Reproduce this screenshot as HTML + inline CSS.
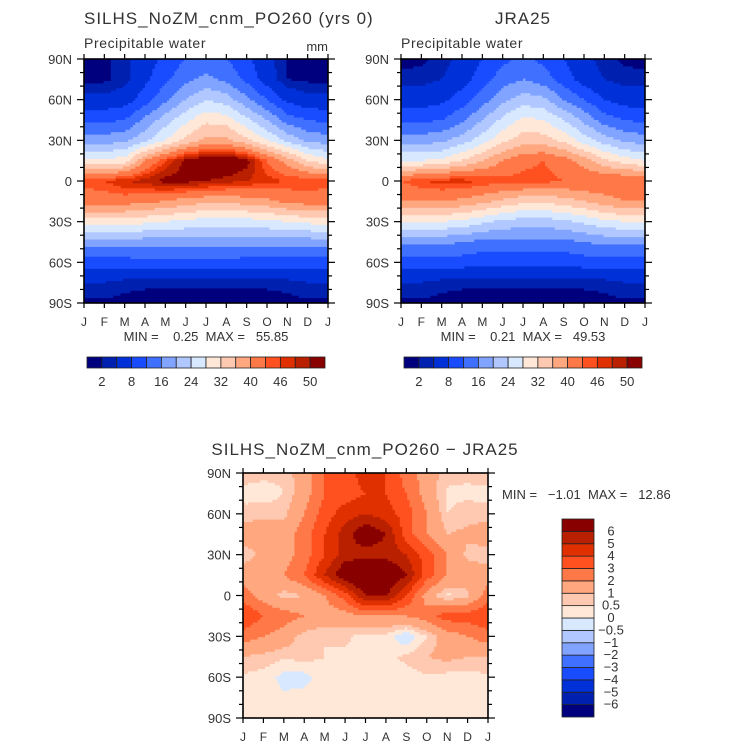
<!DOCTYPE html>
<html><head><meta charset="utf-8">
<style>
html,body{margin:0;padding:0;background:#fff;}
svg{display:block;font-family:"Liberation Sans",sans-serif;}
text{fill:#333;}
</style></head>
<body>
<svg id="fig" width="733" height="748" viewBox="0 0 733 748" xmlns="http://www.w3.org/2000/svg">
<text x="84" y="24" font-size="17" letter-spacing="1">SILHS_NoZM_cnm_PO260 (yrs 0)</text>
<text x="84" y="48" font-size="14" letter-spacing="0.6">Precipitable water</text>
<text x="328" y="51" font-size="13" text-anchor="end">mm</text>
<text x="523" y="24" font-size="17" text-anchor="middle" letter-spacing="1">JRA25</text>
<text x="401" y="48" font-size="14" letter-spacing="0.6">Precipitable water</text>
<text x="206" y="341" font-size="13" text-anchor="middle" xml:space="preserve">MIN =    0.25  MAX =   55.85</text>
<text x="523" y="341" font-size="13" text-anchor="middle" xml:space="preserve">MIN =    0.21  MAX =   49.53</text>
<text x="365" y="455" font-size="17" text-anchor="middle" letter-spacing="1">SILHS_NoZM_cnm_PO260 − JRA25</text>
<text x="502" y="499" font-size="13" xml:space="preserve">MIN =   −1.01  MAX =   12.86</text>
<g id="layer"></g>
</svg>
<script>
const colors=["#00007f","#0020b0","#0030d8","#1a4cff","#4070ff","#80a4ff","#b0c8ff","#d8e8ff","#ffe8d8","#ffc8b0","#ffa880","#ff7848","#ff5020","#e03000","#b82000","#880000"];
const pwLevels=[2,4,8,12,16,20,24,28,32,36,40,44,46,48,50];
const pwLabels=["2","8","16","24","32","40","46","50"];
const diffLevels=[-6,-5,-4,-3,-2,-1,-0.5,0,0.5,1,2,3,4,5,6];
const diffLabels=["-6","-5","-4","-3","-2","-1","-0.5","0","0.5","1","2","3","4","5","6"];
const months=["J","F","M","A","M","J","J","A","S","O","N","D","J"];
const latLabels=["90N","60N","30N","0","30S","60S","90S"];
// rows 90N..90S step 15, cols Jan..Jan
const modelPW=[
[1,1.5,3,6,9,12,13,12,9,5,2,1,1],
[1.5,1.5,3,7,11,15,17,15,11,6,2,1.5,1.5],
[5,5,6,10,15,20,24,22,17,12,7,5,5],
[11,11,12,17,22,27,31,30,25,20,14,12,11],
[18,18,19,23,28,33,37,37,33,28,23,19,18],
[29,29,30,40,46,51,53,54,51,44,38,32,29],
[45,46,48,49,51,51,50,49,48,47,46,46,45],
[42,42,42,41,40,38,37,37,38,39,41,42,42],
[30,30,30,29,28,27,26,26,26,27,28,29,30],
[18,18,18,18,18,18,18,18,18,18,18,18,18],
[10,10,10,11,11,11,11,11,10,10,10,10,10],
[4,4,3,2.5,2.5,2.5,2.5,2.5,2.5,2.5,3,4,4],
[1.5,1.5,1,1,1,1,1,1,1,1,1,1.5,1.5]];
const obsPW=[
[1,1.5,3,5,8,11,13,11,8,5,3,1.5,1],
[3,3,4,6,10,14,16,14,10,6,4,3,3],
[6,6,7,10,14,19,22,21,16,12,8,6,6],
[11,11,12,15,20,25,29,28,24,19,14,12,11],
[18,18,19,22,26,31,34,34,31,26,22,19,18],
[28,28,29,32,36,40,43,44,42,38,33,30,28],
[44,46,47,47,46,45,45,45,44,44,44,44,44],
[40,40,40,39,37,35,33,33,34,36,38,40,40],
[28,28,28,27,25,23,22,22,23,25,27,28,28],
[17,17,17,16,15,15,15,15,15,16,17,17,17],
[10,10,10,10,9,9,9,9,9,10,10,10,10],
[4,4,3,2.5,2.5,2.5,2.5,2.5,2.5,2.5,3,4,4],
[1.5,1.5,1,1,1,1,1,1,1,1,1,1.5,1.5]];
const diffPW=[
[0.8,0.7,0.6,1.5,3,3.5,4.5,4,2.5,1.5,0.7,0.6,0.8],
[0.3,0.2,0.5,1.5,3,3.5,4,4,3,1.5,0.4,0.4,0.3],
[0.7,0.8,0.8,2,3.5,4.5,5,4.5,3.5,2,0.5,0.7,0.7],
[1.5,1.5,1.5,2.5,4,5.5,7,6,3.5,2,1,1.2,1.5],
[0.6,1.2,1.5,2.5,4,5.5,5.5,5.5,5,3.5,2,0.8,0.6],
[1.5,1.5,2,3,5,7,8,7.5,6,3.5,2,1.5,1.5],
[2.5,1.5,0.7,1,2,3.5,6,6,4,1.5,0.3,0.8,2.5],
[4,3,2.5,2,1.5,1.5,2,2,2,2.5,3.5,3.5,4],
[2.5,2,1.5,0.7,0.5,0.6,0.3,0.3,-0.5,0.5,1.5,2,2.5],
[1,0.8,0.6,0.7,0.5,0.4,0.5,0.4,0.6,1,1.2,1,1],
[0.4,0.3,-0.2,-0.2,0.3,0.3,0.3,0.3,0.3,0.4,0.3,0.3,0.4],
[0.2,0.3,0.1,0.2,0.3,0.3,0.3,0.3,0.3,0.2,0.2,0.1,0.2],
[0.3,0.3,0.3,0.3,0.3,0.3,0.3,0.3,0.3,0.3,0.3,0.3,0.3]];

const NS="http://www.w3.org/2000/svg";
const layer=document.getElementById('layer');
function mk(tag,attrs,parent){const e=document.createElementNS(NS,tag);for(const k in attrs)e.setAttribute(k,attrs[k]);(parent||layer).appendChild(e);return e;}
function level(v,lv){let i=0;while(i<lv.length&&v>=lv[i])i++;return i;}
function sample(g,fx,fy){const nr=g.length-1,nc=g[0].length-1;const x=fx*nc,y=fy*nr;let i=Math.min(Math.floor(y),nr-1),j=Math.min(Math.floor(x),nc-1);const ty=y-i,tx=x-j;return g[i][j]*(1-tx)*(1-ty)+g[i][j+1]*tx*(1-ty)+g[i+1][j]*(1-tx)*ty+g[i+1][j+1]*tx*ty;}
function panel(name,x0,y0,w,h,grid,lv){
  const g=mk('g',{});
  
  
  const xs=v=>x0+v*w, ys=v=>y0+v*h;
  const n=100,cw=w/n,ch=h/n;
  for(let r=0;r<n;r++){
    // merge runs of same colour in a row
    let start=0,prev=null;
    for(let c=0;c<=n;c++){
      const col=c<n?colors[level(sample(grid,(c+0.5)/n,(r+0.5)/n),lv)]:null;
      if(col!==prev){
        if(prev!==null){
          const rc=mk('rect',{x:xs(start/n).toFixed(2),y:ys(r/n).toFixed(2),width:((c-start)*cw+0.5).toFixed(2),height:(ch+0.5).toFixed(2),fill:prev},g);
          
          
        }
        start=c;prev=col;
      }
    }
  }
  const fr=mk('rect',{x:x0,y:y0,width:w,height:h,fill:'none',stroke:'#000','stroke-width':1.6},g);
  
  
  for(let m=0;m<=12;m++){
    const x=xs(m/12);
    mk('line',{x1:x,x2:x,y1:y0-5,y2:y0,stroke:'#000','stroke-width':1.2},g);
    mk('line',{x1:x,x2:x,y1:y0+h,y2:y0+h+5,stroke:'#000','stroke-width':1.2},g);
    const t=mk('text',{x:x,y:y0+h+23,'font-size':12,'text-anchor':'middle'},g);
    t.textContent=months[m];
    
    
  }
  for(let k=0;k<=18;k++){
    const y=ys(k/18),maj=k%3==0,L=maj?7:4;
    mk('line',{x1:x0-L,x2:x0,y1:y,y2:y,stroke:'#000','stroke-width':1.2},g);
    mk('line',{x1:x0+w,x2:x0+w+L,y1:y,y2:y,stroke:'#000','stroke-width':1.2},g);
    if(maj){const t=mk('text',{x:x0-12,y:y+5,'font-size':13,'text-anchor':'end'},g);t.textContent=latLabels[k/3];
      
      }
  }
}
panel('model-map',84,59,244,244,modelPW,pwLevels);
panel('obs-map',401,59,244,244,obsPW,pwLevels);
panel('diff-map',243,473,245,245,diffPW,diffLevels);
function hbar(name,x0,y0,w,h){
  const g=mk('g',{});
  
  
  const bw=w/colors.length;
  colors.forEach((c,i)=>{const r=mk('rect',{x:x0+i*bw,y:y0,width:bw,height:h,fill:c,stroke:'#222','stroke-width':0.8},g);
    
    });
  pwLabels.forEach((s,k)=>{const t=mk('text',{x:x0+(2*k+1)*bw,y:y0+h+18,'font-size':13,'text-anchor':'middle'},g);t.textContent=s;
    
    });
}
hbar('model-colorbar',87,357,238,11);
hbar('obs-colorbar',404,357,238,11);
(function(){
  const g=mk('g',{});
  
  
  const x0=562,y0=519,w=32,h=198,bh=h/colors.length;
  colors.forEach((c,i)=>{const r=mk('rect',{x:x0,y:y0+h-(i+1)*bh,width:w,height:bh,fill:c,stroke:'#222','stroke-width':0.8},g);
    
    });
  diffLabels.forEach((s,k)=>{const y=y0+h-(k+1)*bh;const t=mk('text',{x:611,y:y+4,'font-size':13,'text-anchor':'middle'},g);t.textContent=s.replace('-','−');
    
    });
})();
</script>
</body></html>
